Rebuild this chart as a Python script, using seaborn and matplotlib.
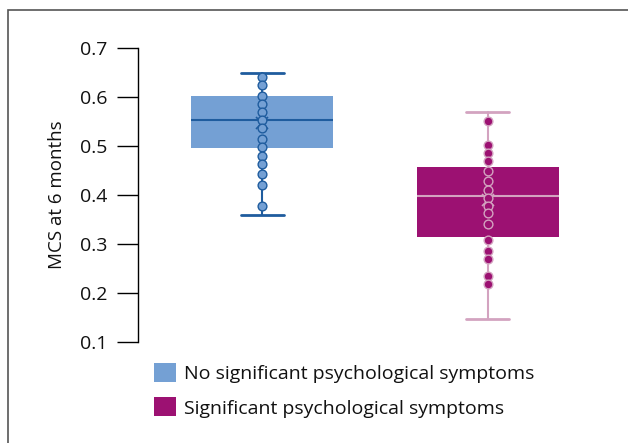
import pandas as pd
import seaborn as sns
import matplotlib.pyplot as plt
from matplotlib.patches import Patch, Rectangle

# Группы
groups = ['No significant psychological symptoms', 'Significant psychological symptoms']

# Точки (значения MCS через 6 месяцев)
mcs_no = [0.641, 0.624, 0.602, 0.586, 0.570, 0.554, 0.536, 0.514,
          0.497, 0.480, 0.463, 0.443, 0.421, 0.378]
mcs_sig = [0.551, 0.503, 0.486, 0.469, 0.449, 0.428, 0.410, 0.393,
           0.378, 0.363, 0.341, 0.308, 0.286, 0.270, 0.235, 0.218]

# Статистика боксплотов
whislo = [0.359, 0.147]
q1 = [0.496, 0.315]
med = [0.553, 0.398]
q3 = [0.602, 0.457]
whishi = [0.649, 0.569]
means = [0.547, 0.390]

fill_colors = ['#74a0d4', '#9c1172']
line_colors = ['#1f5c9e', '#d3a3c0']

df = pd.DataFrame({
    'group': [groups[0]] * len(mcs_no) + [groups[1]] * len(mcs_sig),
    'mcs': mcs_no + mcs_sig,
})

sns.set_style('ticks')
plt.rcParams['font.family'] = ['Open Sans', 'DejaVu Sans']
plt.rcParams['text.color'] = '#111111'
plt.rcParams['axes.labelcolor'] = '#111111'
plt.rcParams['ytick.labelcolor'] = '#111111'

fig = plt.figure(figsize=(6.28, 4.43), dpi=100)
ax = fig.add_axes([138 / 628, 1 - 342 / 443, (612 - 138) / 628, (342 - 48) / 443])

for i in range(2):
    stats = [{'whislo': whislo[i], 'q1': q1[i], 'med': med[i], 'q3': q3[i],
              'whishi': whishi[i], 'mean': means[i], 'fliers': []}]
    lc = line_colors[i]
    ax.bxp(stats, positions=[i], widths=0.63, patch_artist=True, showmeans=True,
           showfliers=False,
           boxprops=dict(facecolor=fill_colors[i], edgecolor='none', linewidth=0),
           whiskerprops=dict(color=lc, linewidth=1.5),
           capprops=dict(color=lc, linewidth=2),
           medianprops=dict(color=lc, linewidth=1.5),
           meanprops=dict(marker='x', markeredgecolor=lc, markersize=9,
                          markeredgewidth=1.2),
           capwidths=0.19)

    sub = df[df['group'] == groups[i]]
    sns.stripplot(data=sub, x='group', y='mcs', order=groups, jitter=False,
                  color=fill_colors[i], edgecolor=lc, linewidth=1, size=6.3,
                  ax=ax, zorder=4)

ax.set_xlim(-0.55, 1.55)
ax.set_ylim(0.1, 0.7)
ax.set_yticks([0.1, 0.2, 0.3, 0.4, 0.5, 0.6, 0.7])
ax.set_yticklabels(['0.1', '0.2', '0.3', '0.4', '0.5', '0.6', '0.7'])
ax.set_xticks([])
ax.set_xlabel('')
ax.set_ylabel('MCS at 6 months', fontsize=13.5, labelpad=10)
ax.tick_params(axis='y', length=15, width=1, labelsize=14, pad=7, color='black')
sns.despine(ax=ax, bottom=True)
ax.spines['left'].set_linewidth(1)
ax.spines['left'].set_color('black')

# Легенда
handles = [Patch(facecolor=c, edgecolor='none') for c in fill_colors]
fig.legend(handles, groups, loc='upper left', bbox_to_anchor=(154 / 628, 1 - 363 / 443),
           frameon=False, fontsize=14, handlelength=1.12, handleheight=1.12,
           handletextpad=0.42, labelspacing=0.74, borderaxespad=0, borderpad=0)

# Рамка вокруг рисунка
fig.patches.append(Rectangle((8 / 628, -0.1), 1.2, 1 - 10 / 443 + 0.1,
                             transform=fig.transFigure, fill=False,
                             edgecolor='#555555', linewidth=1.2))

fig.savefig('out.png', dpi=100)
